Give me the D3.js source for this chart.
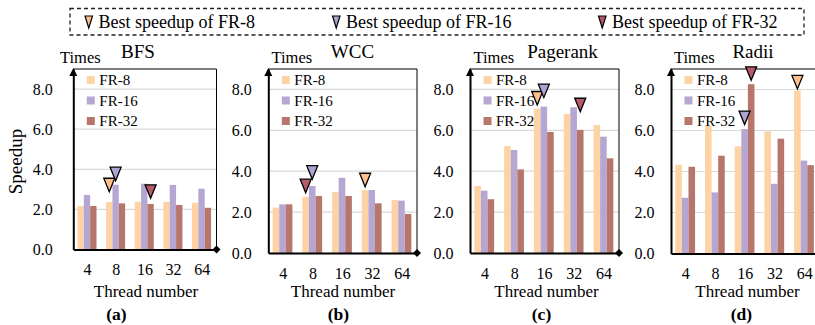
<!DOCTYPE html>
<html>
<head>
<meta charset="utf-8">
<script src="https://cdn.jsdelivr.net/npm/d3@7"></script>
<style>
  body { margin: 0; background: #fff; }
  svg text { font-family: "Liberation Serif", serif; fill: #000; }
</style>
</head>
<body>
<svg id="chart" width="815" height="325"></svg>
<script>
// thread counts on the x axis, the three FR configs
var threads = ['4', '8', '16', '32', '64'];
var series = ['FR-8', 'FR-16', 'FR-32'];
var titles = ['BFS', 'WCC', 'Pagerank', 'Radii'];
var captions = ['(a)', '(b)', '(c)', '(d)'];
var yTicks = [0, 2, 4, 6, 8];

// speedup per series (rows) and thread count (cols)
var bfs = [
  [2.17, 2.37, 2.38, 2.37, 2.33],
  [2.72, 3.23, 3.28, 3.22, 3.03],
  [2.17, 2.30, 2.27, 2.22, 2.08]
];
var wcc = [
  [2.22, 2.75, 2.98, 3.08, 2.59],
  [2.38, 3.28, 3.68, 3.08, 2.56],
  [2.38, 2.79, 2.79, 2.43, 1.91]
];
var pagerank = [
  [3.28, 5.23, 7.06, 6.80, 6.26],
  [3.05, 5.04, 7.16, 7.13, 5.69],
  [2.63, 4.09, 5.92, 6.02, 4.63]
];
var radii = [
  [4.33, 6.24, 5.23, 5.96, 7.95],
  [2.72, 2.98, 6.07, 3.40, 4.53],
  [4.23, 4.77, 8.26, 5.60, 4.31]
];
var allData = [bfs, wcc, pagerank, radii];

// "best speedup" markers: which chart, which FR, above which bar, tip value
var markers = [
  {chart: 0, series: 0, thread: '8', slot: 0, tip: 2.88},
  {chart: 0, series: 1, thread: '8', slot: 1, tip: 3.43},
  {chart: 0, series: 2, thread: '16', slot: 2, tip: 2.55},
  {chart: 1, series: 2, thread: '8', slot: 0, tip: 2.95},
  {chart: 1, series: 1, thread: '8', slot: 1, tip: 3.61},
  {chart: 1, series: 0, thread: '32', slot: 0, tip: 3.24},
  {chart: 2, series: 0, thread: '16', slot: 0, tip: 7.24},
  {chart: 2, series: 1, thread: '16', slot: 1, tip: 7.60},
  {chart: 2, series: 2, thread: '32', slot: 2, tip: 6.91},
  {chart: 3, series: 2, thread: '16', slot: 2, tip: 8.45},
  {chart: 3, series: 1, thread: '16', slot: 1, tip: 6.29},
  {chart: 3, series: 0, thread: '64', slot: 0, tip: 8.03}
];

var barColors = ['#fdd3a5', '#b5a7d2', '#b7766b'];
var triColors = ['#fcc08c', '#aea2d2', '#b65b6b'];

// where each small chart sits on the page
var layout = [
  {x0: 73.3, x1: 216.5, y0: 69, y1: 249.5, titleX: 138, timesX: 60, tickY: 275, labelY: 297, thread: 146, cap: 116.5, lab: 20.5},
  {x0: 268.3, x1: 417, y0: 69, y1: 253, titleX: 352.5, timesX: 271.5, tickY: 279, labelY: 297, thread: 343, cap: 338.5, lab: 16.5},
  {x0: 470, x1: 619, y0: 69, y1: 253, titleX: 562.5, timesX: 473.5, tickY: 279, labelY: 297, thread: 546.5, cap: 541.5, lab: 16.5},
  {x0: 671, x1: 819.5, y0: 69, y1: 253.5, titleX: 753, timesX: 674, tickY: 279, labelY: 297, thread: 747.5, cap: 741.5, lab: 16.5}
];

var svg = d3.select('#chart');

function tri(cx, tipY, w, h) {
  return 'M' + (cx - w / 2) + ',' + (tipY - h) + 'L' + (cx + w / 2) + ',' + (tipY - h) + 'L' + cx + ',' + tipY + 'Z';
}

// top legend with the dashed box
var legendTop = svg.append('g');
legendTop.append('rect')
  .attr('x', 70).attr('y', 8.5)
  .attr('width', 734).attr('height', 26.5)
  .attr('fill', 'none')
  .attr('stroke', '#222')
  .attr('stroke-width', 1.3)
  .attr('stroke-dasharray', '4,3');

var legX = [85, 332.5, 598.5];
series.forEach(function(s, i) {
  legendTop.append('path')
    .attr('d', tri(legX[i] + 3.75, 28, 7.5, 12))
    .attr('fill', triColors[i])
    .attr('stroke', '#000')
    .attr('stroke-width', 1.2);
  legendTop.append('text')
    .attr('x', legX[i] + 13.5)
    .attr('y', 27.5)
    .style('font-size', '18px')
    .text('Best speedup of ' + s);
});

// y label on the far left
svg.append('text')
  .attr('transform', 'translate(22,161.5) rotate(-90)')
  .attr('text-anchor', 'middle')
  .style('font-size', '19px')
  .text('Speedup');

function drawChart(k) {
  var L = layout[k];
  var data = allData[k];
  var g = svg.append('g');

  var x = d3.scaleBand().domain(threads).range([L.x0, L.x1]);
  var inner = d3.scaleBand().domain([0, 1, 2])
    .range([x.step() * 0.145, x.step() * 0.81]);
  var y = d3.scaleLinear().domain([0, 9]).range([L.y1, L.y0]);

  // gridlines
  g.selectAll('.grid')
    .data(yTicks.filter(function(d) { return d > 0; }))
    .enter().append('line')
    .attr('x1', L.x0).attr('x2', L.x1)
    .attr('y1', function(d) { return y(d); })
    .attr('y2', function(d) { return y(d); })
    .attr('stroke', '#d9d9d9')
    .attr('stroke-width', 1.2);

  // frame top + right
  g.append('path')
    .attr('d', 'M' + L.x0 + ',' + L.y0 + 'H' + L.x1 + 'V' + L.y1)
    .attr('fill', 'none')
    .attr('stroke', '#000')
    .attr('stroke-width', 1);

  // bars
  data.forEach(function(row, si) {
    g.selectAll('.bar' + si)
      .data(row)
      .enter().append('rect')
      .attr('x', function(d, i) { return x(threads[i]) + inner(si); })
      .attr('width', inner.bandwidth())
      .attr('y', function(d) { return y(d); })
      .attr('height', function(d) { return y(0) - y(d); })
      .attr('fill', barColors[si]);
  });

  // legend inside
  series.forEach(function(s, i) {
    var ly = L.y0 + 11 + i * 20.5;
    g.append('rect')
      .attr('x', L.x0 + 13.5).attr('y', ly - 4)
      .attr('width', 8).attr('height', 8)
      .attr('fill', barColors[i]);
    g.append('text')
      .attr('x', L.x0 + 26)
      .attr('y', ly + 5)
      .style('font-size', '15px')
      .text(s);
  });

  // axes
  var yAxis = d3.axisLeft(y).tickValues(yTicks)
    .tickFormat(d3.format('.1f')).tickSize(0).tickPadding(L.lab);
  var ay = g.append('g').attr('transform', 'translate(' + L.x0 + ',0)').call(yAxis);
  ay.attr('font-family', null);
  ay.select('.domain').attr('stroke', '#000').attr('stroke-width', 2);
  ay.selectAll('text').style('font-size', '16px');

  var xAxis = d3.axisBottom(x).tickSize(0).tickPadding(L.tickY - L.y1 - 11);
  var ax = g.append('g').attr('transform', 'translate(0,' + L.y1 + ')').call(xAxis);
  ax.attr('font-family', null);
  ax.select('.domain').attr('stroke', '#000').attr('stroke-width', 2);
  ax.selectAll('text').style('font-size', '16px');

  // arrow head + diamond
  g.append('path')
    .attr('d', 'M' + L.x0 + ',' + (L.y0 - 1) + 'l4,8h-8z')
    .attr('fill', '#000');
  g.append('path')
    .attr('d', 'M' + (L.x1 - 4) + ',' + L.y1 + 'l4,-4l4,4l-4,4z')
    .attr('fill', '#000');

  // markers
  markers.filter(function(m) { return m.chart == k; }).forEach(function(m) {
    var cx = x(m.thread) + inner(m.slot) + inner.bandwidth() / 2;
    g.append('path')
      .attr('d', tri(cx, y(m.tip), 11, 13.5))
      .attr('fill', triColors[m.series])
      .attr('stroke', '#000')
      .attr('stroke-width', 1.3);
  });

  // texts
  g.append('text')
    .attr('x', L.titleX).attr('y', 58)
    .attr('text-anchor', 'middle')
    .style('font-size', '19px')
    .text(titles[k]);
  g.append('text')
    .attr('x', L.timesX).attr('y', 63)
    .style('font-size', '16.5px')
    .text('Times');
  g.append('text')
    .attr('x', L.thread).attr('y', L.labelY)
    .attr('text-anchor', 'middle')
    .style('font-size', '17px')
    .text('Thread number');
  g.append('text')
    .attr('x', L.cap).attr('y', 320)
    .attr('text-anchor', 'middle')
    .style('font-size', '17.5px')
    .style('font-weight', 'bold')
    .text(captions[k]);
}

for (var k = 0; k < 4; k++) {
  drawChart(k);
}
</script>
</body>
</html>
